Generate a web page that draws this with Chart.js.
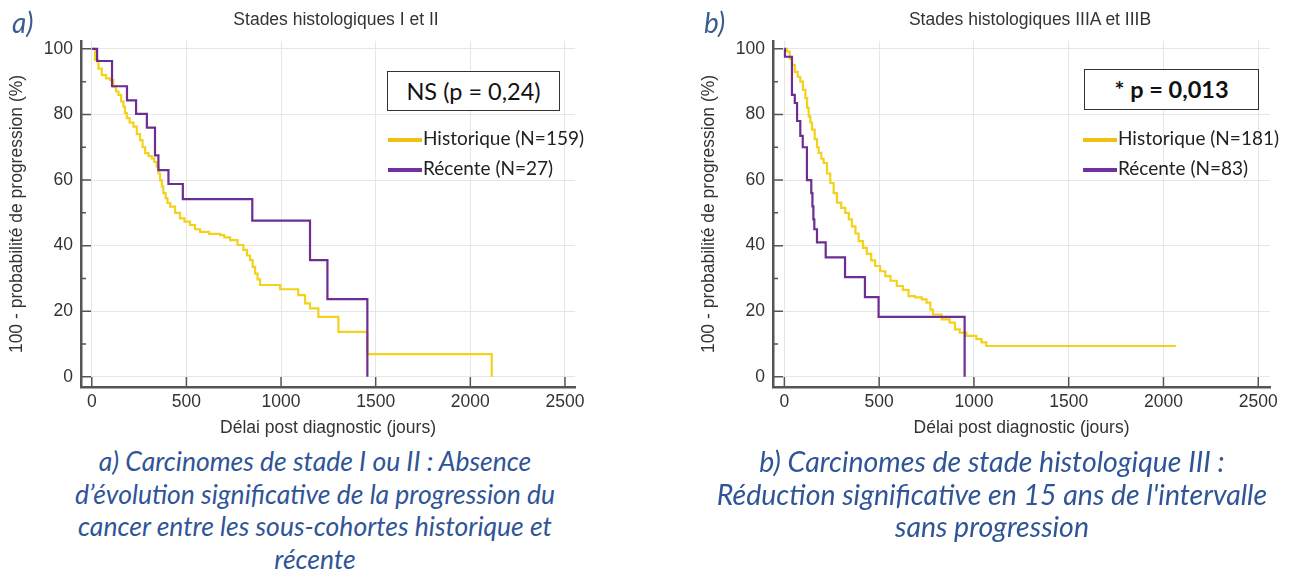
<!DOCTYPE html>
<html lang="fr">
<head>
<meta charset="utf-8">
<title>Intervalle sans progression</title>
<script src="https://cdn.jsdelivr.net/npm/chart.js@4.4.0/dist/chart.umd.min.js"></script>
<style>
  body { margin: 0; background: #fff; width: 1293px; height: 576px; position: relative; overflow: hidden; font-family: "Liberation Sans", Arial, sans-serif; }
  canvas { position: absolute; top: 0; }
  #grapheA { left: 0; }
  #grapheB { left: 692px; }
  .lettre { position: absolute; top: 5px; font: italic 28px Lato, sans-serif; color: #3a5d8f; }
  .titre { position: absolute; top: 9px; width: 400px; text-align: center; font-size: 17.5px; line-height: 20px; color: #333; }
  .pval { position: absolute; border: 1px solid #333; background: #fff; text-align: center; font: 23.5px Lato, sans-serif; color: #111; }
  .leg { position: absolute; white-space: nowrap; font: 19px Lato, sans-serif; line-height: 22px; color: #222; }
  .leg span { display: inline-block; width: 34px; height: 4px; vertical-align: middle; margin-right: 1px; }
  .legende { position: absolute; top: 445px; width: 640px; text-align: center; font: italic 26.5px Lato, sans-serif; line-height: 32.5px; color: #2f5597; }
</style>
</head>
<body>
<canvas id="grapheA" width="646" height="445"></canvas>
<canvas id="grapheB" width="646" height="445"></canvas>

<div class="lettre" style="left:12px">a)</div>
<div class="lettre" style="left:704px">b)</div>
<div class="titre" style="left:136px">Stades histologiques I et II</div>
<div class="titre" style="left:830px">Stades histologiques IIIA et IIIB</div>

<div class="pval" style="left:387px; top:71px; width:171px; height:38px; line-height:38px">NS (p = 0,24)</div>
<div class="pval" style="left:1084px; top:69px; width:173px; height:39px; line-height:39px; font-weight:bold">* p = 0,013</div>

<div id="legA"></div>
<div id="legB"></div>

<div class="legende" style="left:-5px">a) Carcinomes de stade I ou II : Absence<br>d’évolution significative de la progression du<br>cancer entre les sous-cohortes historique et<br>récente</div>
<div class="legende" style="left:672px; font-size:28.5px">b) Carcinomes de stade histologique III :<br>Réduction significative en 15 ans de l'intervalle<br>sans progression</div>

<script>
// Données : délai (jours) et 100 - probabilité de progression (%)
const joursHistoA = [0, 17, 35, 53, 75, 97, 114, 128, 141, 155, 167, 175, 185, 200, 220, 238, 255, 268, 282, 300, 317, 330, 343, 352, 361, 370, 378, 390, 400, 414, 440, 466, 490, 519, 545, 572, 620, 678, 700, 731, 770, 801, 820, 836, 850, 863, 876, 889, 995, 1091, 1127, 1153, 1197, 1303, 1456, 2113];
const valHistoA = [100, 96.6, 94, 92, 91, 90.5, 88.5, 87, 86, 84, 82.4, 80.5, 78.9, 77.5, 76.3, 74, 72.2, 70, 68.2, 67.3, 66.6, 65.5, 64.1, 62, 60, 58, 56, 54.5, 53, 51.9, 50, 48.3, 47.3, 46.3, 45, 44.2, 43.6, 43.2, 42.5, 41.7, 40.2, 38.7, 37, 35.6, 33.5, 31.5, 29.7, 28, 26.7, 24.9, 22.4, 20.9, 18.3, 13.7, 6.9, 0];

const joursRecA = [0, 28, 107, 186, 234, 291, 334, 352, 405, 481, 848, 1153, 1245, 1456];
const valRecA = [100, 96.3, 88.6, 84.3, 80.2, 76, 67.5, 63, 58.8, 54.2, 47.6, 35.6, 23.7, 0];

const joursHistoB = [0, 14, 28, 40, 55, 70, 84, 98, 111, 120, 128, 137, 146, 160, 172, 181, 195, 207, 225, 242, 260, 277, 300, 321, 340, 356, 375, 392, 415, 435, 458, 479, 505, 532, 560, 593, 625, 655, 690, 725, 750, 770, 784, 830, 872, 900, 925, 960, 1013, 1040, 1065, 2065];
const valHistoB = [100, 99.2, 97, 95.1, 93, 91.5, 90, 87.5, 85, 82, 79.4, 77.5, 75.4, 72.5, 70, 68.3, 66.5, 65.2, 62, 59.1, 56, 53.1, 51.5, 50, 48, 45.9, 43.7, 41.4, 39.3, 37.5, 35.5, 33.8, 32.2, 30.7, 29.3, 27.7, 26.5, 24.6, 24.2, 23.6, 22.6, 20.5, 19, 17.5, 16.5, 14.5, 13.5, 12.5, 11.5, 10.5, 9.4, 9.4];

const joursRecB = [0, 3, 40, 55, 67, 84, 97, 119, 142, 148, 153, 158, 172, 218, 320, 425, 497, 951];
const valRecB = [100, 97.6, 86, 83.5, 78, 73.5, 70, 60, 56, 52, 48, 45, 41, 36.4, 30.4, 24.3, 18.3, 0];

const labelsA = ['Historique (N=159)', 'Récente (N=27)'];
const labelsB = ['Historique (N=181)', 'Récente (N=83)'];

const ticksX = [0, 500, 1000, 1500, 2000, 2500];
const ticksY = [0, 20, 40, 60, 80, 100];
const ticksYMineurs = [10, 30, 50, 70, 90];

const couleurHisto = '#f3d21c';
const couleurRec = '#6e2d92';
const couleursLegende = ['#f2c015', '#7030a0'];

Chart.defaults.font.family = '"Liberation Sans", Arial, sans-serif';
Chart.defaults.font.size = 17.5;
Chart.defaults.color = '#333';

// Petites graduations tournées vers l'intérieur, comme sur la figure d'origine
const graduations = {
    id: 'graduations',
    afterDraw(chart) {
        const ctx = chart.ctx;
        const x = chart.scales.x;
        const y = chart.scales.y;
        const bas = chart.chartArea.bottom;
        const gauche = chart.chartArea.left;
        ctx.save();
        ctx.strokeStyle = '#555';
        ctx.lineWidth = 1.5;
        ctx.beginPath();
        ticksX.forEach(v => {
            const px = x.getPixelForValue(v);
            ctx.moveTo(px, bas);
            ctx.lineTo(px, bas - 10);
        });
        ticksY.forEach(v => {
            const py = y.getPixelForValue(v);
            ctx.moveTo(gauche, py);
            ctx.lineTo(gauche + 10, py);
        });
        ticksYMineurs.forEach(v => {
            const py = y.getPixelForValue(v);
            ctx.moveTo(gauche, py);
            ctx.lineTo(gauche + 5, py);
        });
        ctx.stroke();
        ctx.restore();
    }
};

function points(jours, valeurs) {
    return jours.map((j, i) => ({ x: j, y: valeurs[i] }));
}

function creerGraphe(id, histo, recente, labels, xMin, xMax, padDroite) {
    const ctx = document.getElementById(id).getContext('2d');
    return new Chart(ctx, {
        type: 'line',
        data: {
            datasets: [
                {
                    label: labels[0],
                    data: histo,
                    borderColor: couleurHisto,
                    borderWidth: 2.2,
                    stepped: true,
                    pointRadius: 0,
                    fill: false,
                    order: 2,
                },
                {
                    label: labels[1],
                    data: recente,
                    borderColor: couleurRec,
                    borderWidth: 2.2,
                    stepped: true,
                    pointRadius: 0,
                    fill: false,
                    order: 1,
                },
            ],
        },
        options: {
            responsive: false,
            animation: false,
            devicePixelRatio: 1,
            layout: { padding: { top: 41, right: padDroite, bottom: 0, left: 0 } },
            plugins: {
                legend: { display: false },
                tooltip: { enabled: false },
            },
            scales: {
                x: {
                    type: 'linear',
                    min: xMin,
                    max: xMax,
                    afterBuildTicks: s => { s.ticks = ticksX.map(v => ({ value: v })); },
                    afterFit: s => { s.height = 58; },
                    ticks: { padding: 5, maxRotation: 0, color: '#333', callback: v => String(v) },
                    grid: { color: '#e6e6e6', drawTicks: false },
                    border: { color: '#555', width: 2.5 },
                    title: {
                        display: true,
                        text: 'Délai post diagnostic (jours)',
                        color: '#333',
                        padding: { top: 0, bottom: 6 },
                    },
                },
                y: {
                    type: 'linear',
                    min: -3.1,
                    max: 102.4,
                    afterBuildTicks: s => { s.ticks = ticksY.map(v => ({ value: v })); },
                    afterFit: s => { s.width = 81; },
                    ticks: { padding: 8, color: '#333', callback: v => String(v) },
                    grid: { color: '#e6e6e6', drawTicks: false },
                    border: { color: '#555', width: 2.5 },
                    title: {
                        display: true,
                        text: '100 - probabilité de progression (%)',
                        color: '#333',
                        padding: { top: 7, bottom: 0 },
                    },
                },
            },
        },
        plugins: [graduations],
    });
}

// Légende dessinée à côté de la case p
function creerLegende(id, labels, gauche) {
    const el = document.getElementById(id);
    labels.forEach((texte, i) => {
        const ligne = document.createElement('div');
        ligne.className = 'leg';
        ligne.style.left = gauche + 'px';
        ligne.style.top = (127 + i * 30) + 'px';
        ligne.innerHTML = `<span style="background:${couleursLegende[i]}"></span>${texte}`;
        el.appendChild(ligne);
    });
}

creerGraphe('grapheA', points(joursHistoA, valHistoA), points(joursRecA, valRecA), labelsA, -57, 2553, 71);
creerGraphe('grapheB', points(joursHistoB, valHistoB), points(joursRecB, valRecB), labelsB, -60, 2562, 68);
creerLegende('legA', labelsA, 388);
creerLegende('legB', labelsB, 1083);
</script>
</body>
</html>
